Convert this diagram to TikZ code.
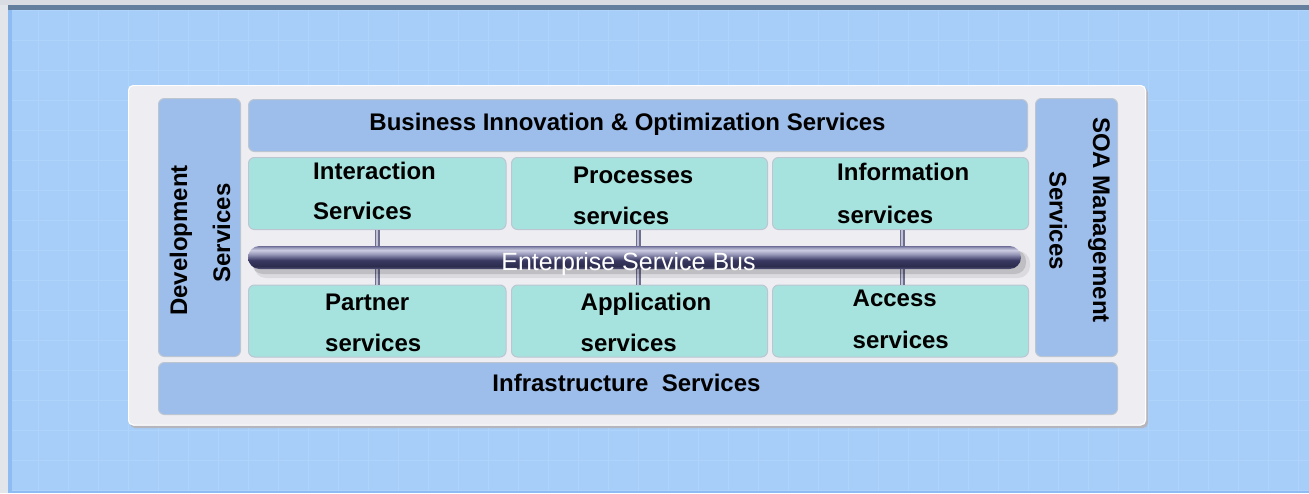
\documentclass[tikz,border=0pt]{standalone}
\usepackage{fontspec}
\setmainfont{Liberation Sans}
\definecolor{bgblue}{HTML}{A7CEF8}
\definecolor{gridc}{HTML}{AFD4FB}
\definecolor{topgrey}{HTML}{D9DDE3}
\definecolor{topdark}{HTML}{647F9E}
\definecolor{leftgrey}{HTML}{E2E5EA}
\definecolor{edgeblue}{HTML}{8EBCF2}
\definecolor{panelc}{HTML}{EDEDF2}
\definecolor{panelsh}{HTML}{B5B5BE}
\definecolor{boxblue}{HTML}{9DBDEA}
\definecolor{boxteal}{HTML}{A7E3DE}
\definecolor{boxedge}{HTML}{BCC6D2}
\definecolor{connd}{HTML}{6E6E8E}
\definecolor{connl}{HTML}{C2C2D6}
\definecolor{busA}{HTML}{6C6C96}
\definecolor{busB}{HTML}{CCCCE2}
\definecolor{busC}{HTML}{9696B8}
\definecolor{busD}{HTML}{383862}
\definecolor{busE}{HTML}{2C2C4E}
\definecolor{busF}{HTML}{54547A}
\pgfdeclareverticalshading{busshade}{100bp}{color(0bp)=(busF); color(25bp)=(busF); color(31bp)=(busE); color(44bp)=(busD); color(57bp)=(busC); color(66bp)=(busB); color(72bp)=(busC); color(75bp)=(busA); color(100bp)=(busA)}
\tikzset{
  svcbox/.style={rounded corners=6pt, draw=boxedge, line width=1pt, inner sep=0pt, anchor=north west},
  bluebox/.style={svcbox, fill=boxblue},
  tealbox/.style={svcbox, fill=boxteal},
  lbl/.style={font=\fontsize{24}{28}\selectfont\bfseries, inner sep=0pt, anchor=base west, text=black},
  clbl/.style={lbl, anchor=base},
  conn/.style={draw=connd, line width=1.5pt, double=connl, double distance=2pt},
}
\begin{document}
\begin{tikzpicture}[x=1pt,y=-1pt]
\useasboundingbox (0,0) rectangle (1309,493);
% background
\fill[leftgrey] (0,0) rectangle (1309,493);
\fill[topgrey] (0,0) rectangle (1309,4.5);
\fill[topdark] (8,4.5) rectangle (1309,9.5);
\fill[bgblue] (8,9.5) rectangle (1309,493);
\begin{scope}
\clip (8,9.5) rectangle (1309,493);
\foreach \gx in {0,...,44} \draw[gridc, line width=0.8pt] (8+30*\gx,9.5) -- (8+30*\gx,493);
\foreach \gy in {0,...,16} \draw[gridc, line width=0.8pt] (8,10.5+30*\gy) -- (1309,10.5+30*\gy);
\end{scope}
\fill[edgeblue] (8,9.5) rectangle (12,493);
\fill[edgeblue] (8,490.5) rectangle (1309,493);
% panel
\fill[panelsh, rounded corners=5pt] (130,87.5) rectangle (1148,428);
\fill[panelc, rounded corners=5pt] (128,85) rectangle (1146,425.5);
\draw[white, line width=1pt, rounded corners=5pt] (128.5,85.5) rectangle (1145.5,425);
% boxes
\node[bluebox, minimum width=82pt, minimum height=258pt] (dev) at (158,98) {};
\node[bluebox, minimum width=779pt, minimum height=52pt] (biz) at (248,99) {};
\node[tealbox, minimum width=257.5pt, minimum height=72pt] (inter) at (248,157) {};
\node[tealbox, minimum width=256pt, minimum height=72pt] (proc) at (511,157) {};
\node[tealbox, minimum width=256pt, minimum height=72pt] (info) at (772,157) {};
\node[tealbox, minimum width=257.5pt, minimum height=72pt] (partner) at (248,284.5) {};
\node[tealbox, minimum width=256pt, minimum height=72pt] (appl) at (511,284.5) {};
\node[tealbox, minimum width=256pt, minimum height=72pt] (access) at (772,284.5) {};
\node[bluebox, minimum width=82pt, minimum height=258pt] (soa) at (1035,98) {};
\node[bluebox, minimum width=959pt, minimum height=52pt] (infra) at (158,362) {};
% connectors
\draw[conn] (inter.south) -- (partner.north);
\draw[conn] ([xshift=-1.5pt]proc.south) -- ([xshift=-1.5pt]appl.north);
\draw[conn] ([xshift=1.5pt]info.south) -- ([xshift=1.5pt]access.north);
% bus shadow
\fill[black, opacity=0.08, rounded corners=12pt] (254,251) rectangle (1030,278);
\fill[black, opacity=0.12, rounded corners=11pt] (252,250) rectangle (1026,274);
% bus
\node[rounded corners=11.5pt, shading=busshade, minimum width=773pt, minimum height=23pt, inner sep=0pt] (bus) at (634.5,257.5) {};
\node[font=\fontsize{25}{30}\selectfont, text=white, inner sep=0pt, anchor=base] (esbt) at (628.5,270) {Enterprise Service Bus};
% labels
\node[clbl] (tbiz) at (627.5,130) {Business Innovation \& Optimization Services};
\node[clbl] (tinfra) at (626.5,391.5) {Infrastructure\ \ Services};
\node[lbl] (tinter1) at (313,179.3) {Interaction};
\node[lbl] (tinter2) at (313,219.3) {Services};
\node[lbl] (tproc1) at (573,183) {Processes};
\node[lbl] (tproc2) at (573,224) {services};
\node[lbl] (tinfo1) at (837,180) {Information};
\node[lbl] (tinfo2) at (837,223) {services};
\node[lbl] (tpart1) at (325,310) {Partner};
\node[lbl] (tpart2) at (325,351.5) {services};
\node[lbl] (tappl1) at (580.5,310) {Application};
\node[lbl] (tappl2) at (580.5,351) {services};
\node[lbl] (tacc1) at (852.5,306) {Access};
\node[lbl] (tacc2) at (852.5,348) {services};
\node[clbl, rotate=90] (tdev1) at (187,240.5) {Development};
\node[clbl, rotate=90] (tdev2) at (230,233) {Services};
\node[clbl, rotate=-90] (tsoa1) at (1093,220) {SOA Management};
\node[clbl, rotate=-90] (tsoa2) at (1049.5,220.5) {Services};
\end{tikzpicture}
\end{document}
